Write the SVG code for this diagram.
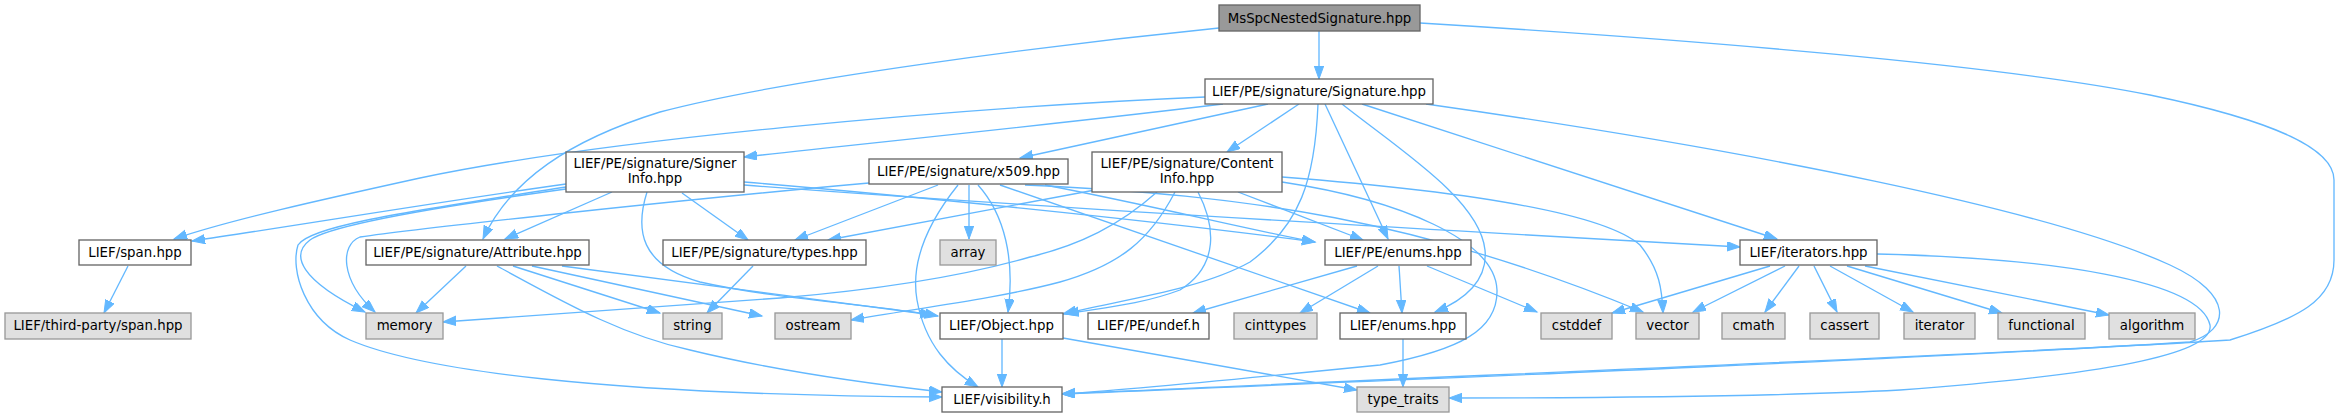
<svg xmlns="http://www.w3.org/2000/svg" width="2339" height="417" viewBox="0 0 2339 417">
<style>
rect{stroke-width:1.33}
.n rect{fill:#ffffff;stroke:#666666}
.g rect{fill:#e0e0e0;stroke:#999999}
.r rect{fill:#999999;stroke:#666666}
text{font-family:"DejaVu Sans","Liberation Sans",sans-serif;font-size:13.33px;text-anchor:middle;fill:#000000}
#edges path{fill:none;stroke:#63b8ff;stroke-width:1.33;marker-end:url(#a)}
</style>
<defs>
<marker id="a" markerUnits="userSpaceOnUse" markerWidth="15" markerHeight="11" refX="13" refY="4.7" orient="auto">
<path d="M0,0 L13,4.7 L0,9.4 z" fill="#63b8ff" stroke="#63b8ff" stroke-width="1"/>
</marker>
</defs>
<rect width="2339" height="417" fill="#ffffff"/>
<g id="edges">
<path d="M1319,31 L1319,79"/>
<path d="M1219,28 C1050,45 780,80 660,112 C570,140 510,180 483,239"/>
<path d="M1420,23 C1700,40 2000,65 2150,95 C2280,122 2334,150 2334,180 L2334,260 C2334,300 2300,318 2230,340 C2000,355 1400,378 1062,394"/>
<path d="M1205,97 C950,108 600,140 420,178 C320,200 230,220 174,239"/>
<path d="M1223,104 C1050,125 850,145 744,157"/>
<path d="M1268,104 L1020,158"/>
<path d="M1299,104 L1227,152"/>
<path d="M1318,104 C1315,180 1300,225 1250,262 C1200,290 1120,300 1063,314"/>
<path d="M1325,104 L1388,239"/>
<path d="M1342,104 C1400,150 1480,200 1485,250 C1488,280 1465,300 1435,312"/>
<path d="M1362,104 L1777,239"/>
<path d="M1426,104 C1750,150 2050,210 2170,265 C2235,295 2230,330 2190,342 C1900,360 1400,380 1062,394"/>
<path d="M566,184 C450,200 300,225 192,241"/>
<path d="M612,192 L505,239"/>
<path d="M682,193 L748,240"/>
<path d="M566,189 C450,205 330,225 310,240 C290,255 300,280 365,312"/>
<path d="M566,187 C420,210 310,225 298,245 C290,270 305,320 350,340 C420,370 600,395 942,397"/>
<path d="M647,192 C635,230 640,265 700,282 C780,300 880,305 938,316"/>
<path d="M744,182 C900,195 1150,220 1315,242"/>
<path d="M744,185 C1000,205 1400,228 1740,247"/>
<path d="M466,266 L416,313"/>
<path d="M513,266 L660,313"/>
<path d="M532,266 L762,316"/>
<path d="M562,266 L933,315"/>
<path d="M497,266 C560,300 620,335 690,350 C780,372 880,385 942,392"/>
<path d="M753,266 L707,313"/>
<path d="M938,185 L795,240"/>
<path d="M969,185 L969,239"/>
<path d="M978,185 C1005,215 1015,260 1008,312"/>
<path d="M958,185 C930,220 910,260 917,300 C925,345 950,370 978,387"/>
<path d="M869,183 C700,198 420,228 360,237 C340,245 340,280 375,312"/>
<path d="M1045,185 C1150,205 1250,230 1315,242"/>
<path d="M1000,185 L1370,313"/>
<path d="M1025,185 C1250,195 1420,220 1643,312"/>
<path d="M1095,190 L828,240"/>
<path d="M1157,192 C1120,225 1080,245 1030,257 C950,280 850,292 780,298 C650,308 520,316 443,322"/>
<path d="M1175,192 C1150,240 1120,265 1060,282 C1000,298 920,308 851,320"/>
<path d="M1198,192 C1215,225 1220,265 1180,290 C1140,305 1100,308 1066,314"/>
<path d="M1238,192 L1363,240"/>
<path d="M1282,177 C1450,190 1600,210 1640,245 C1660,270 1662,290 1663,313"/>
<path d="M1282,182 C1400,200 1495,240 1497,290 C1498,330 1460,350 1380,365 C1250,378 1130,390 1062,394"/>
<path d="M1357,266 L1193,313"/>
<path d="M1378,266 L1300,313"/>
<path d="M1399,266 L1402,313"/>
<path d="M1427,266 L1537,312"/>
<path d="M1403,339 L1403,387"/>
<path d="M1002,339 L1002,387"/>
<path d="M1063,338 L1357,390"/>
<path d="M1770,266 L1612,313"/>
<path d="M1785,266 L1693,312"/>
<path d="M1799,266 L1765,312"/>
<path d="M1814,266 L1837,312"/>
<path d="M1830,266 L1913,312"/>
<path d="M1847,266 L2002,313"/>
<path d="M1865,266 L2109,315"/>
<path d="M1877,254 C2050,258 2200,280 2210,325 C2215,355 2100,375 1900,390 C1750,398 1550,398 1449,398"/>
<path d="M128,266 L104,313"/>
</g>
<g id="n_msspc" class="r"><rect x="1219" y="5" width="201" height="26"/><text x="1319.5" y="23">MsSpcNestedSignature.hpp</text></g>
<g id="n_signature" class="n"><rect x="1205" y="79" width="228" height="25"/><text x="1319" y="96">LIEF/PE/signature/Signature.hpp</text></g>
<g id="n_signerinfo" class="n"><rect x="566" y="152" width="178" height="40"/><text x="655" y="168">LIEF/PE/signature/Signer</text><text x="655" y="183">Info.hpp</text></g>
<g id="n_x509" class="n"><rect x="869" y="159" width="199" height="25"/><text x="968.5" y="176">LIEF/PE/signature/x509.hpp</text></g>
<g id="n_contentinfo" class="n"><rect x="1092" y="152" width="190" height="40"/><text x="1187" y="168">LIEF/PE/signature/Content</text><text x="1187" y="183">Info.hpp</text></g>
<g id="n_span" class="n"><rect x="79" y="240" width="112" height="25"/><text x="135" y="257">LIEF/span.hpp</text></g>
<g id="n_attribute" class="n"><rect x="366" y="240" width="223" height="25"/><text x="477.5" y="257">LIEF/PE/signature/Attribute.hpp</text></g>
<g id="n_types" class="n"><rect x="663" y="240" width="203" height="25"/><text x="764.5" y="257">LIEF/PE/signature/types.hpp</text></g>
<g id="n_array" class="g"><rect x="940" y="240" width="56" height="25"/><text x="968" y="257">array</text></g>
<g id="n_peenums" class="n"><rect x="1325" y="240" width="146" height="25"/><text x="1398" y="257">LIEF/PE/enums.hpp</text></g>
<g id="n_iterators" class="n"><rect x="1740" y="240" width="137" height="25"/><text x="1808.5" y="257">LIEF/iterators.hpp</text></g>
<g id="n_tpspan" class="g"><rect x="5" y="313" width="186" height="26"/><text x="98" y="330">LIEF/third-party/span.hpp</text></g>
<g id="n_memory" class="g"><rect x="366" y="313" width="77" height="26"/><text x="404.5" y="330">memory</text></g>
<g id="n_string" class="g"><rect x="663" y="313" width="59" height="26"/><text x="692.5" y="330">string</text></g>
<g id="n_ostream" class="g"><rect x="775" y="313" width="76" height="26"/><text x="813" y="330">ostream</text></g>
<g id="n_object" class="n"><rect x="940" y="313" width="123" height="26"/><text x="1001.5" y="330">LIEF/Object.hpp</text></g>
<g id="n_undef" class="n"><rect x="1088" y="313" width="121" height="26"/><text x="1148.5" y="330">LIEF/PE/undef.h</text></g>
<g id="n_cinttypes" class="g"><rect x="1234" y="313" width="83" height="26"/><text x="1275.5" y="330">cinttypes</text></g>
<g id="n_enums" class="n"><rect x="1340" y="313" width="126" height="26"/><text x="1403" y="330">LIEF/enums.hpp</text></g>
<g id="n_cstddef" class="g"><rect x="1541" y="313" width="71" height="26"/><text x="1576.5" y="330">cstddef</text></g>
<g id="n_vector" class="g"><rect x="1636" y="313" width="63" height="26"/><text x="1667.5" y="330">vector</text></g>
<g id="n_cmath" class="g"><rect x="1722" y="313" width="63" height="26"/><text x="1753.5" y="330">cmath</text></g>
<g id="n_cassert" class="g"><rect x="1810" y="313" width="69" height="26"/><text x="1844.5" y="330">cassert</text></g>
<g id="n_iterator" class="g"><rect x="1904" y="313" width="71" height="26"/><text x="1939.5" y="330">iterator</text></g>
<g id="n_functional" class="g"><rect x="1998" y="313" width="87" height="26"/><text x="2041.5" y="330">functional</text></g>
<g id="n_algorithm" class="g"><rect x="2109" y="313" width="86" height="26"/><text x="2152" y="330">algorithm</text></g>
<g id="n_visibility" class="n"><rect x="942" y="387" width="120" height="25"/><text x="1002" y="404">LIEF/visibility.h</text></g>
<g id="n_typetraits" class="g"><rect x="1357" y="387" width="92" height="25"/><text x="1403" y="404">type_traits</text></g>
</svg>
